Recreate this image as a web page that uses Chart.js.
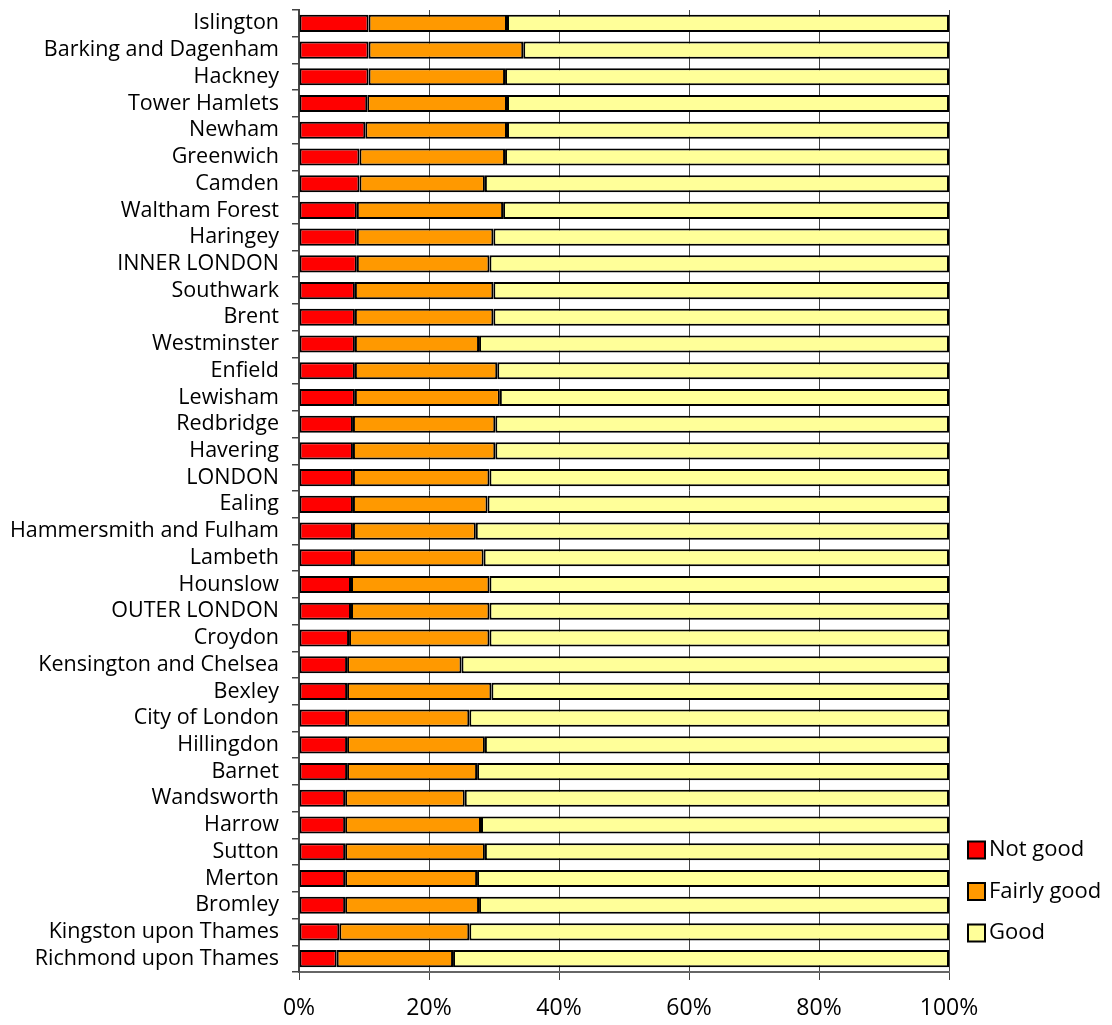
<!DOCTYPE html>
<html>
<head>
<meta charset="utf-8">
<script src="https://cdn.jsdelivr.net/npm/chart.js@4"></script>
<style>
  html, body { margin: 0; padding: 0; background: #fff; }
  #wrap { width: 1112px; height: 1025px; position: relative; }
</style>
</head>
<body>
<div id="wrap"><canvas id="healthChart" width="1112" height="1025"></canvas></div>
<script>
  const boroughs = [
    'Islington', 'Barking and Dagenham', 'Hackney', 'Tower Hamlets', 'Newham',
    'Greenwich', 'Camden', 'Waltham Forest', 'Haringey', 'INNER LONDON',
    'Southwark', 'Brent', 'Westminster', 'Enfield', 'Lewisham',
    'Redbridge', 'Havering', 'LONDON', 'Ealing', 'Hammersmith and Fulham',
    'Lambeth', 'Hounslow', 'OUTER LONDON', 'Croydon', 'Kensington and Chelsea',
    'Bexley', 'City of London', 'Hillingdon', 'Barnet', 'Wandsworth',
    'Harrow', 'Sutton', 'Merton', 'Bromley', 'Kingston upon Thames',
    'Richmond upon Thames'
  ];

  const notGood = [
    10.7, 10.7, 10.7, 10.5, 10.2, 9.3, 9.3, 8.9, 8.9, 8.9,
    8.6, 8.6, 8.6, 8.6, 8.6, 8.3, 8.3, 8.3, 8.3, 8.3,
    8.3, 8.0, 8.0, 7.7, 7.4, 7.4, 7.4, 7.4, 7.4, 7.1,
    7.1, 7.1, 7.1, 7.1, 6.2, 5.8
  ];

  const fairlyGood = [
    21.3, 23.8, 21.0, 21.5, 21.8, 22.4, 19.3, 22.5, 21.0, 20.4,
    21.3, 21.3, 19.1, 21.9, 22.3, 21.9, 21.9, 21.0, 20.7, 18.9,
    20.1, 21.3, 21.3, 21.6, 17.6, 22.2, 18.8, 21.2, 20.0, 18.4,
    20.9, 21.5, 20.3, 20.6, 20.0, 17.9
  ];

  const good = [
    68.0, 65.5, 68.3, 68.0, 68.0, 68.3, 71.4, 68.6, 70.1, 70.7,
    70.1, 70.1, 72.3, 69.5, 69.1, 69.8, 69.8, 70.7, 71.0, 72.8,
    71.6, 70.7, 70.7, 70.7, 75.0, 70.4, 73.8, 71.4, 72.6, 74.5,
    72.0, 71.4, 72.6, 72.3, 73.8, 76.3
  ];

  const seriesNames = ['Not good', 'Fairly good', 'Good'];
  const seriesColors = ['#ff0000', '#ff9900', '#ffff99'];
  const xTicks = [0, 20, 40, 60, 80, 100];

  const FONT = '"Open Sans", "Noto Sans", sans-serif';

  // legend drawn by hand so it can sit low on the right like the original
  const sideLegend = {
    id: 'sideLegend',
    afterDraw: function (chart) {
      const area = chart.chartArea;
      const ctx = chart.ctx;
      const sets = chart.data.datasets;
      const step = 41.5;
      const boxSize = 17;
      const left = area.right + 19;
      const lastY = area.bottom - 39;

      ctx.save();
      ctx.font = '22px ' + FONT;
      ctx.textBaseline = 'middle';
      ctx.textAlign = 'left';
      sets.forEach(function (ds, i) {
        const cy = lastY - (sets.length - 1 - i) * step;
        ctx.fillStyle = ds.backgroundColor;
        ctx.fillRect(left, cy - boxSize / 2, boxSize, boxSize);
        ctx.lineWidth = 2;
        ctx.strokeStyle = '#000';
        ctx.strokeRect(left, cy - boxSize / 2, boxSize, boxSize);
        ctx.fillStyle = '#000';
        ctx.fillText(ds.label, left + boxSize + 4, cy);
      });
      ctx.restore();
    }
  };

  const datasets = [notGood, fairlyGood, good].map(function (values, i) {
    return {
      label: seriesNames[i],
      data: values,
      backgroundColor: seriesColors[i],
      borderColor: '#000',
      borderWidth: 2,
      borderSkipped: false,
      categoryPercentage: 1,
      barPercentage: 0.64
    };
  });

  new Chart(document.getElementById('healthChart').getContext('2d'), {
    type: 'bar',
    data: { labels: boroughs, datasets: datasets },
    plugins: [sideLegend],
    options: {
      indexAxis: 'y',
      responsive: false,
      animation: false,
      devicePixelRatio: 1,
      layout: { padding: { top: 10, right: 163, left: 0, bottom: 0 } },
      plugins: {
        legend: { display: false },
        tooltip: { enabled: false }
      },
      scales: {
        x: {
          stacked: true,
          min: 0,
          max: 100,
          afterBuildTicks: function (scale) {
            scale.ticks = xTicks.map(function (v) { return { value: v }; });
          },
          afterFit: function (scale) {
            scale.height = 53;
            scale.paddingLeft = 0;
            scale.paddingRight = 0;
          },
          ticks: {
            callback: function (v) { return v + '%'; },
            color: '#000',
            font: { family: FONT, size: 23 },
            padding: 15,
            maxRotation: 0
          },
          grid: {
            color: '#444',
            lineWidth: 1,
            tickLength: 8,
            tickColor: '#444'
          },
          border: { color: '#666', width: 2 }
        },
        y: {
          stacked: true,
          afterFit: function (scale) {
            scale.width = 299;
            scale.paddingTop = 0;
            scale.paddingBottom = 0;
          },
          ticks: {
            color: '#000',
            font: { family: FONT, size: 21.5 },
            padding: 13,
            autoSkip: false
          },
          grid: {
            offset: true,
            drawOnChartArea: false,
            tickLength: 7,
            tickColor: '#444',
            lineWidth: 1.5
          },
          border: { color: '#444', width: 2 }
        }
      }
    }
  });
</script>
</body>
</html>
